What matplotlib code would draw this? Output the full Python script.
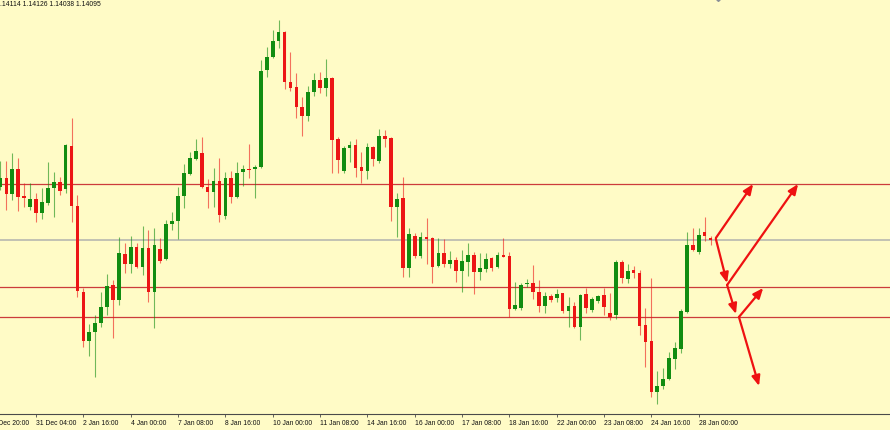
import numpy as np
import matplotlib.pyplot as plt

# --- candle data (4H bars) ---
opens = [1.1462, 1.1471, 1.1455, 1.1480, 1.1453, 1.1442, 1.1450, 1.1436, 1.1446, 1.1461,
         1.1467, 1.1460, 1.1503, 1.1443, 1.1357, 1.1308, 1.1317, 1.1326, 1.1342, 1.1364,
         1.1349, 1.1395, 1.1385, 1.1402, 1.1382, 1.1401, 1.1357, 1.1400, 1.1390, 1.1425,
         1.1428, 1.1453, 1.1475, 1.1490, 1.1496, 1.1462, 1.1457, 1.1468, 1.1433, 1.1471,
         1.1452, 1.1477, 1.1480, 1.1480, 1.1482, 1.1579, 1.1592, 1.1608, 1.1617, 1.1567,
         1.1562, 1.1542, 1.1533, 1.1557, 1.1569, 1.1561, 1.1571, 1.1510, 1.1478, 1.1501,
         1.1504, 1.1482, 1.1478, 1.1502, 1.1488, 1.1513, 1.1511, 1.1442, 1.1451, 1.1381,
         1.1413, 1.1393, 1.1412, 1.1411, 1.1383, 1.1396, 1.1385, 1.1389, 1.1378, 1.1387,
         1.1394, 1.1377, 1.1380, 1.1391, 1.1382, 1.1394, 1.1393, 1.1340, 1.1341, 1.1365,
         1.1366, 1.1357, 1.1343, 1.1353, 1.1351, 1.1356, 1.1338, 1.1343, 1.1322, 1.1355,
         1.1339, 1.1348, 1.1354, 1.1336, 1.1334, 1.1387, 1.1370, 1.1379, 1.1376, 1.1324,
         1.1308, 1.1257, 1.1263, 1.1270, 1.1290, 1.1300, 1.1337, 1.1404, 1.1397, 1.1417,
         1.14114]
highs = [1.1488, 1.1488, 1.1496, 1.1491, 1.1466, 1.1466, 1.1456, 1.1461, 1.1487, 1.1477,
         1.1472, 1.1505, 1.1531, 1.1454, 1.1361, 1.1325, 1.1334, 1.1357, 1.1375, 1.1369,
         1.1412, 1.1406, 1.1413, 1.1406, 1.1423, 1.1419, 1.1421, 1.1411, 1.1429, 1.1437,
         1.1462, 1.1485, 1.1497, 1.1510, 1.1512, 1.1470, 1.1481, 1.1491, 1.1477, 1.1478,
         1.1487, 1.1484, 1.1505, 1.1484, 1.1589, 1.1602, 1.1619, 1.1629, 1.1618, 1.1597,
         1.1576, 1.1552, 1.1563, 1.1576, 1.1577, 1.1590, 1.1572, 1.1512, 1.1503, 1.1508,
         1.1510, 1.1497, 1.1506, 1.1503, 1.1520, 1.1519, 1.1512, 1.1456, 1.1472, 1.1421,
         1.1416, 1.1417, 1.1431, 1.1412, 1.1411, 1.1410, 1.1398, 1.1392, 1.1399, 1.1406,
         1.1397, 1.1396, 1.1396, 1.1392, 1.1397, 1.1411, 1.1397, 1.1367, 1.1366, 1.1370,
         1.1384, 1.1369, 1.1357, 1.1355, 1.1360, 1.1356, 1.1352, 1.1347, 1.1355, 1.1361,
         1.1352, 1.1354, 1.1361, 1.1356, 1.1389, 1.1389, 1.1385, 1.1383, 1.1379, 1.1341,
         1.1371, 1.1278, 1.1281, 1.1297, 1.1307, 1.1340, 1.1417, 1.1421, 1.1421, 1.1432,
         1.14126]
lows = [1.1459, 1.1439, 1.1449, 1.1438, 1.1442, 1.1439, 1.1427, 1.1430, 1.1444, 1.1432,
        1.1454, 1.1456, 1.1427, 1.1352, 1.1302, 1.1293, 1.1272, 1.1322, 1.1334, 1.1311,
        1.1344, 1.1376, 1.1376, 1.1381, 1.1374, 1.1347, 1.1321, 1.1386, 1.1389, 1.1419,
        1.1410, 1.1441, 1.1474, 1.1489, 1.1461, 1.1441, 1.1442, 1.1427, 1.1430, 1.1446,
        1.1451, 1.1463, 1.1471, 1.1451, 1.1481, 1.1572, 1.1591, 1.1601, 1.1560, 1.1558,
        1.1531, 1.1513, 1.1528, 1.1553, 1.1556, 1.1553, 1.1476, 1.1476, 1.1476, 1.1487,
        1.1472, 1.1466, 1.1470, 1.1483, 1.1486, 1.1502, 1.1428, 1.1412, 1.1372, 1.1372,
        1.1391, 1.1391, 1.1385, 1.1366, 1.1382, 1.1382, 1.1381, 1.1367, 1.1357, 1.1373,
        1.1355, 1.1369, 1.1377, 1.1378, 1.1381, 1.1392, 1.1332, 1.1339, 1.1339, 1.1362,
        1.1350, 1.1337, 1.1336, 1.1347, 1.1347, 1.1336, 1.1322, 1.1321, 1.1309, 1.1336,
        1.1337, 1.1346, 1.1334, 1.1329, 1.1330, 1.1366, 1.1366, 1.1371, 1.1314, 1.1282,
        1.1252, 1.1245, 1.1260, 1.1269, 1.1280, 1.1296, 1.1336, 1.1398, 1.1395, 1.1408,
        1.14038]
closes = [1.1471, 1.1455, 1.1480, 1.1452, 1.1451, 1.1450, 1.1436, 1.1447, 1.1461, 1.1467,
          1.1458, 1.1504, 1.1443, 1.1358, 1.1308, 1.1317, 1.1326, 1.1342, 1.1363, 1.1349,
          1.1396, 1.1385, 1.1402, 1.1382, 1.1401, 1.1357, 1.1404, 1.1388, 1.1425, 1.1428,
          1.1453, 1.1476, 1.1491, 1.1498, 1.1462, 1.1457, 1.1468, 1.1434, 1.1471, 1.1452,
          1.1476, 1.1480, 1.1479, 1.1482, 1.1578, 1.1592, 1.1608, 1.1617, 1.1567, 1.1561,
          1.1542, 1.1533, 1.1557, 1.1569, 1.1561, 1.1571, 1.1509, 1.1489, 1.1501, 1.1504,
          1.1481, 1.1478, 1.1502, 1.1490, 1.1513, 1.1510, 1.1442, 1.1450, 1.1381, 1.1415,
          1.1393, 1.1412, 1.1410, 1.1382, 1.1396, 1.1385, 1.1389, 1.1378, 1.1388, 1.1394,
          1.1377, 1.1381, 1.1390, 1.1381, 1.1394, 1.1392, 1.1340, 1.1344, 1.1364, 1.1366,
          1.1357, 1.1343, 1.1353, 1.1349, 1.1355, 1.1338, 1.1343, 1.1322, 1.1354, 1.1341,
          1.1350, 1.1353, 1.1342, 1.1332, 1.1387, 1.1371, 1.1378, 1.1376, 1.1323, 1.1307,
          1.1257, 1.1263, 1.1270, 1.1291, 1.1301, 1.1338, 1.1404, 1.1399, 1.1414, 1.1413,
          1.14095]

tick_bars = [-2, 6, 14, 22, 30, 38, 46, 54, 62, 70, 78, 86, 94, 102, 110, 118]
tick_labels = ["27 Dec 20:00", "31 Dec 04:00", "2 Jan 16:00", "4 Jan 00:00", "7 Jan 08:00",
               "8 Jan 16:00", "10 Jan 00:00", "11 Jan 08:00", "14 Jan 16:00", "16 Jan 00:00",
               "17 Jan 08:00", "18 Jan 16:00", "22 Jan 00:00", "23 Jan 08:00", "24 Jan 16:00",
               "28 Jan 00:00"]

red_levels = [1.1465, 1.1362, 1.1332]
bid_level = 1.14095
info_text = ".14114 1.14126 1.14038 1.14095"

# scenario arrows: (bar_start, price_start, bar_end, price_end)
arrows = [
    (120.9, 1.1411, 127.2, 1.1465),
    (120.9, 1.1410, 122.8, 1.1366),
    (122.8, 1.1364, 134.8, 1.1465),
    (122.8, 1.1364, 124.3, 1.1335),
    (124.8, 1.1332, 128.9, 1.1361),
    (124.8, 1.1332, 128.2, 1.1263),
]
marker_bar, marker_price = 121.3, 1.1651

# --- layout ---
W, H = 890, 430
BAR_PX = 5.917
BG = '#fffbc6'
GREEN = '#118c11'
RED = '#ec1515'

fig = plt.figure(figsize=(W / 100, H / 100), dpi=100)
fig.patch.set_facecolor(BG)
ax = fig.add_axes([-12 / W, 16 / H, (W + 12) / W, 414 / H])
ax.set_facecolor(BG)
ax.set_xlim((-12 - 0.5) / BAR_PX, (W - 0.5) / BAR_PX)
ax.set_ylim(1.1235, 1.1649)

o = np.array(opens); h = np.array(highs); l = np.array(lows); c = np.array(closes)
x = np.arange(len(o))
up = c >= o
cols = np.where(up, GREEN, RED)

# horizontal levels
for lv in red_levels:
    ax.axhline(lv, color='#cc3b3b', lw=0.9, zorder=1)
ax.axhline(bid_level, color='#b8b8b0', lw=1.2, zorder=1)

# wicks and bodies
ax.vlines(x, l, h, colors=cols, lw=0.8, alpha=0.6, zorder=2)
body_h = np.maximum(np.abs(c - o), 0.00008)
ax.bar(x, body_h, bottom=np.minimum(o, c), width=0.62, color=cols, linewidth=0, zorder=3)

# arrows
for x0, y0, x1, y1 in arrows:
    ax.annotate('', xy=(x1, y1), xytext=(x0, y0),
                arrowprops=dict(arrowstyle='-|>,head_length=0.6,head_width=0.25',
                                color='#ee1111', lw=1.6, shrinkA=0, shrinkB=0), zorder=5)

ax.plot([marker_bar], [marker_price], marker='D', ms=3, color='#8a8f98', clip_on=False, zorder=6)

# axis styling
for s in ['top', 'left', 'right']:
    ax.spines[s].set_visible(False)
ax.spines['bottom'].set_color('#4a4a4a')
ax.spines['bottom'].set_linewidth(0.8)
ax.set_yticks([])
ax.set_xticks(tick_bars)
ax.set_xticklabels(tick_labels, fontsize=4.9, family='Liberation Sans', color='#111111')
for lbl in ax.get_xticklabels():
    lbl.set_ha('left')
ax.tick_params(axis='x', direction='out', length=2.5, width=0.6, color='#4a4a4a', pad=1.5)

fig.text(0.0, 1 - 5 / H, info_text, fontsize=4.9, family='Liberation Sans',
         color='#111111', va='center', ha='left')

fig.savefig('out.png', dpi=100, facecolor=BG)
